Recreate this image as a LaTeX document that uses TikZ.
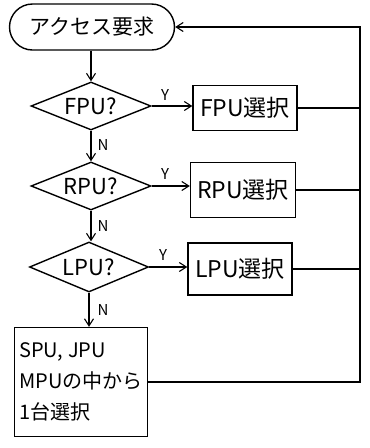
\documentclass[tikz,border=0pt]{standalone}
\usepackage{fontspec}
\setmainfont{Noto Sans CJK JP}
\usetikzlibrary{shapes.geometric,arrows.meta}
\begin{document}
\begin{tikzpicture}[x=1pt,y=-1pt,
  every node/.style={font=\fontsize{20}{28}\selectfont},
  ln/.style={line width=1.4pt},
  arr/.style={ln,-{Straight Barb[length=7pt,width=9pt,line width=1.1pt]}},
  decide/.style={ln,draw,diamond,inner sep=0pt,minimum width=120pt,minimum height=48pt,aspect=2.5,font=\fontsize{22}{26}\selectfont},
  proc/.style={ln,draw,rectangle,inner sep=0pt,font=\fontsize{23}{28}\selectfont},
  lab/.style={font=\fontsize{15}{18}\selectfont,inner sep=0pt}]
\useasboundingbox (0,0) rectangle (370,448);
\node[ln,draw,rectangle,rounded corners=23pt,minimum width=165pt,minimum height=46pt,inner sep=0pt,font=\fontsize{21}{26}\selectfont] (start) at (92,27) {アクセス要求};
\node[decide] (d1) at (91,106) {FPU?};
\node[decide] (d2) at (91,186) {RPU?};
\node[decide,minimum width=119pt,minimum height=50pt] (d3) at (89,267) {LPU?};
\node[proc,minimum width=104pt,minimum height=45pt] (b1) at (245,108) {FPU選択};
\node[proc,minimum width=105pt,minimum height=55pt] (b2) at (243,190) {RPU選択};
\node[proc,minimum width=104pt,minimum height=52pt] (b3) at (240,269) {LPU選択};
\node[proc,minimum width=133pt,minimum height=109pt,align=left,font=\fontsize{20}{31}\selectfont] (b4) at (81,382) {SPU, JPU\\MPUの中から\\1台選択};
\coordinate (rt) at (360,27);
\draw[arr] (start.south -| d1.north) -- (d1.north);
\draw[arr] (d1.east) -- (d1.east -| b1.west);
\draw[arr] (d2.east) -- (d2.east -| b2.west);
\draw[arr] (d3.east) -- (d3.east -| b3.west);
\draw[arr] (d1.south) -- (d2.north);
\draw[arr] (d2.south) -- (d3.north -| d2.south);
\draw[arr] (d3.south) -- (d3.south |- b4.north);
\draw[ln] (b1.east) -- (b1.east -| rt);
\draw[ln] (b2.east) -- (b2.east -| rt);
\draw[ln] (b3.east) -- (b3.east -| rt);
\draw[arr] (b4.east) -| (rt) -- (start.east);
\node[lab] (y1) at (165,95) {Y};
\node[lab] (y2) at (165,174) {Y};
\node[lab] (y3) at (163,255) {Y};
\node[lab] (n1) at (103,145) {N};
\node[lab] (n2) at (103,226) {N};
\node[lab] (n3) at (103,310) {N};
\end{tikzpicture}
\end{document}
